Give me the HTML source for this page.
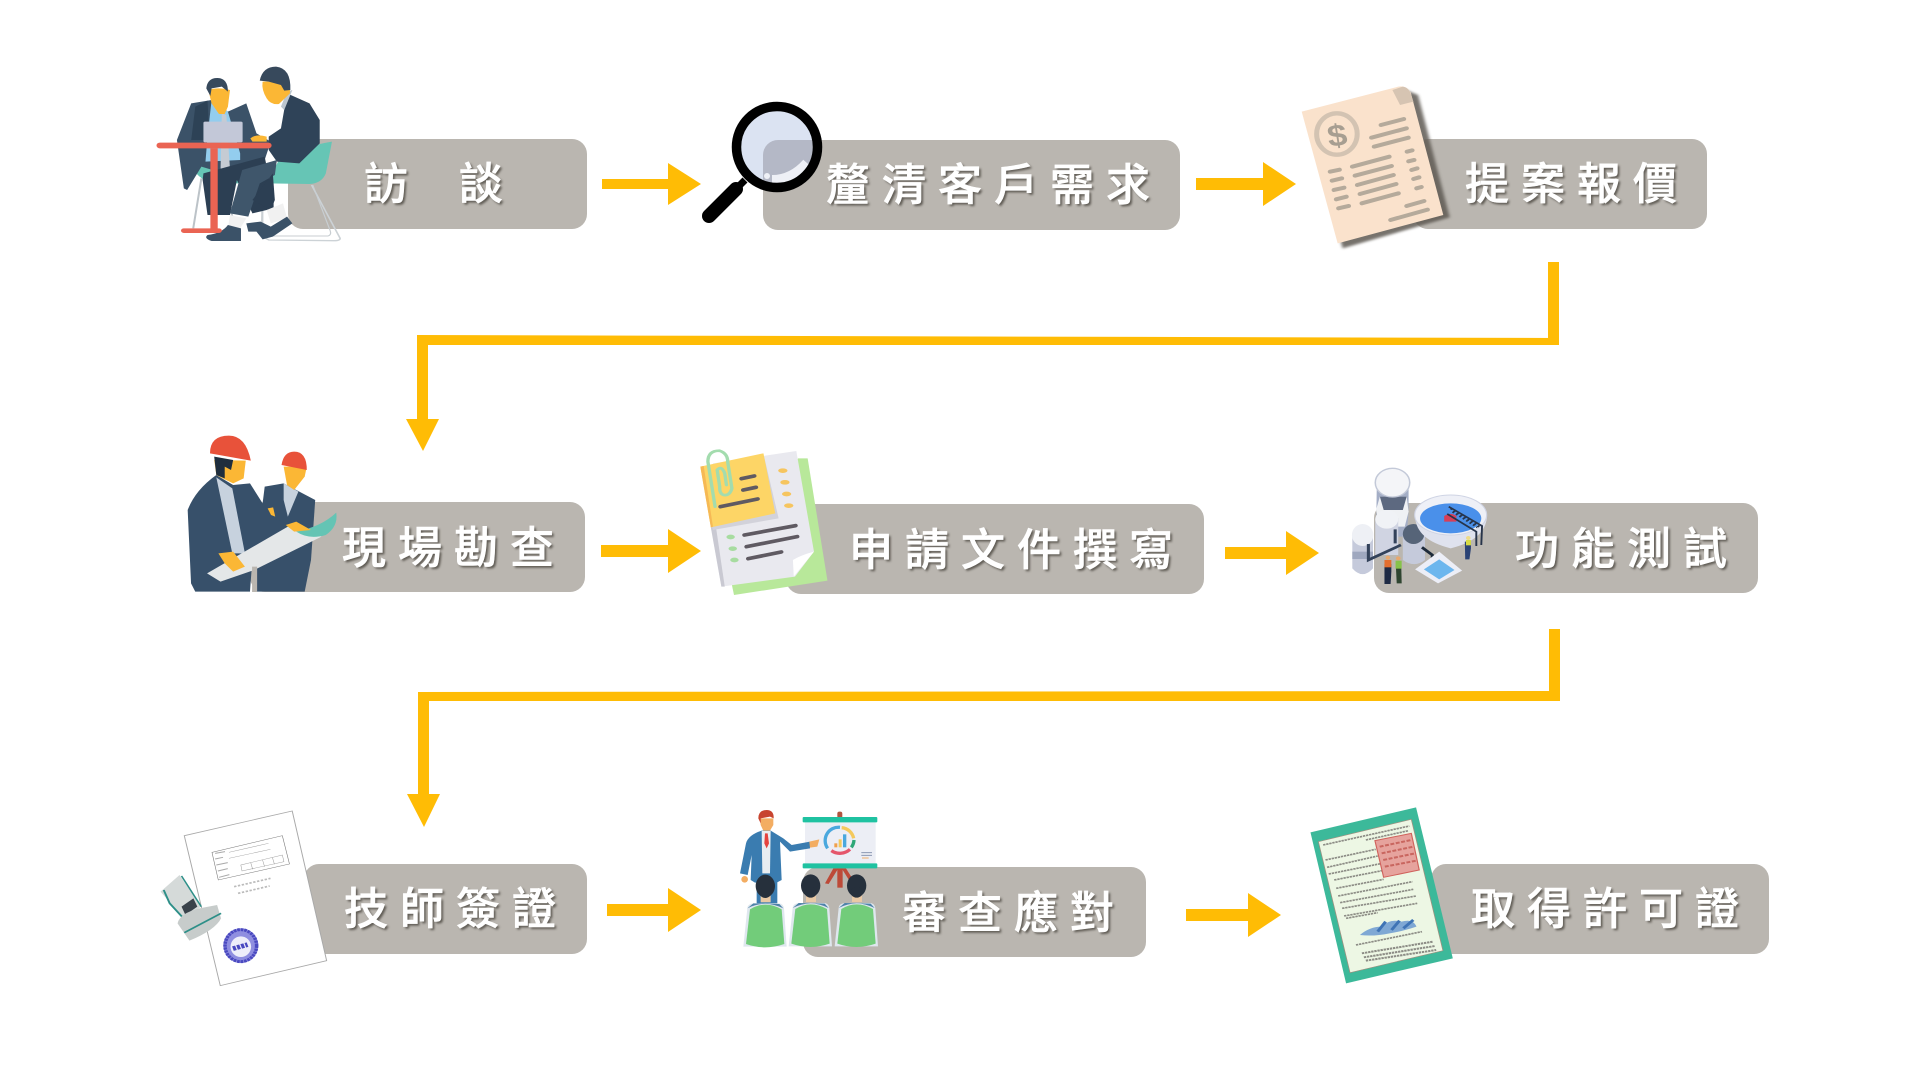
<!DOCTYPE html>
<html lang="zh-Hant"><head><meta charset="utf-8"><title>流程圖</title>
<style>
html,body{margin:0;padding:0;background:#fff;width:1920px;height:1075px;overflow:hidden}
svg{position:absolute;left:0;top:0}
.t{position:absolute;font-family:"Liberation Sans","Noto Sans CJK TC",sans-serif;font-size:44px;line-height:44px;font-weight:500;color:#fff;white-space:pre;letter-spacing:12px;-webkit-text-stroke:.6px #fff;text-shadow:2px 2px 2px #5f5b54}
</style></head><body>
<svg width="1920" height="1075" viewBox="0 0 1920 1075">
<defs><filter id="b" x="-20%" y="-20%" width="140%" height="140%"><feGaussianBlur stdDeviation="4"/></filter>
<clipPath id="lens"><circle cx="777" cy="147" r="38"/></clipPath></defs>
<!-- boxes -->
<g fill="#bab6b0">
<rect x="288" y="139" width="299" height="90" rx="15"/>
<rect x="763" y="140" width="417" height="90" rx="15"/>
<rect x="1413" y="139" width="294" height="90" rx="15"/>
<rect x="250" y="502" width="335" height="90" rx="15"/>
<rect x="786" y="504" width="418" height="90" rx="15"/>
<rect x="1374" y="503" width="384" height="90" rx="15"/>
<rect x="304" y="864" width="283" height="90" rx="15"/>
<rect x="803" y="867" width="343" height="90" rx="15"/>
<rect x="1431" y="864" width="338" height="90" rx="15"/>
</g>
<!-- arrows -->
<g fill="#ffbc05">
<path d="M602 179h66v-16l33 21-33 21v-16h-66z"/>
<path d="M1196 178h67v-16l33 22-33 22v-16h-67z"/>
<path d="M601 545h67v-16l33 22-33 22v-16h-67z"/>
<path d="M1225 547h61v-16l33 22-33 22v-16h-61z"/>
<path d="M607 904h61v-16l33 22-33 22v-16h-61z"/>
<path d="M1186 909h62v-16l33 22-33 22v-16h-62z"/>
<path d="M1548 262h11v81h-11z"/>
<path d="M417 335L1559 338v7L428 345v74h-11z"/>
<path d="M406 419h33l-16 32z"/>
<path d="M1549 629h11v72h-11z"/>
<path d="M418 692L1560 691v10L429 701v94h-11z"/>
<path d="M407 794h33l-16 33z"/>
</g>

<!-- icon 1: two men at table -->
<g transform="translate(130 40) scale(.408 .3333)">
<path d="M335 430L365 360Q420 320 495 305L480 400Q470 430 440 432Z" fill="#66c5b5"/>
<path d="M445 435L515 595Q515 602 500 602L340 600L325 590V430" fill="none" stroke="#ccd2d6" stroke-width="4"/>
<path d="M325 430L322 580Q325 590 345 588H485Q495 585 490 570L448 435" fill="none" stroke="#c8ced2" stroke-width="3"/>
<path d="M175 415L155 565M235 420L255 560" stroke="#bcc3c8" stroke-width="5" fill="none"/>
<path d="M140 330Q150 420 210 430H280V400L310 330Z" fill="#66c5b5"/>
<path d="M115 300L150 190L200 180L240 215L285 190L310 280L345 305L330 360L270 410L230 400L175 380L140 450L132 445Z" fill="#3b5268"/>
<path d="M160 200L190 182L195 300H150Z" fill="#2d4256"/>
<path d="M200 180L240 215L270 340V360L185 365L190 290Z" fill="#93cdee"/>
<path d="M225 220L236 225L245 385L235 400L222 385Z" fill="#c5cbd3"/>
<path d="M180 400L330 350L352 480L352 505L300 520L262 420L245 525H190L178 420Z" fill="#2c3f53"/>
<path d="M192 150Q215 140 245 150L240 200L232 222L218 222L200 190Z" fill="#fbb735"/>
<path d="M187 145Q190 113 215 114Q240 115 240 155L225 140L200 145L197 168Z" fill="#37495c"/>
<rect x="180" y="245" width="96" height="62" rx="4" fill="#c3c8d8"/>
<path d="M340 290L370 265L385 160L440 190L465 240L465 310L415 370L360 365L340 330Z" fill="#2f4358"/>
<path d="M385 155L398 150L378 210L370 200Z" fill="#bcc6cf"/>
<path d="M325 125Q322 150 335 175Q345 195 365 192L392 160V125Z" fill="#fbb735"/>
<path d="M318 122Q325 80 358 80Q395 85 393 150L378 152L370 135L340 125Z" fill="#37495c"/>
<path d="M295 295Q310 280 335 290V305H300Z" fill="#fbb735"/>
<path d="M360 360L275 390L245 520L290 530L318 430L355 405Z" fill="#3f566b"/>
<path d="M350 400L300 480L345 510L355 480Z" fill="#2c3f53"/>
<path d="M245 525L285 535L270 565H240Z" fill="#f1f1f1"/>
<path d="M335 510L375 490L385 535L345 550Z" fill="#f1f1f1"/>
<path d="M240 555L272 565V603H200Q180 595 190 585Q225 580 240 555Z" fill="#3b5268"/>
<path d="M285 550L320 545L345 560L385 530L398 550L350 590L325 598L310 575H290Z" fill="#3b5268"/>
<rect x="65" y="308" width="282" height="17" rx="8" fill="#ea6453"/>
<rect x="197" y="325" width="18" height="250" fill="#ea6453"/>
<rect x="125" y="565" width="100" height="14" rx="7" fill="#ea6453"/>
</g>

<!-- icon 2: magnifier -->
<g>
<circle cx="777" cy="147" r="41" fill="#dbe3f2"/>
<g clip-path="url(#lens)">
<rect x="763" y="140" width="90" height="90" rx="15" fill="#b4b8c6"/>
<path d="M772 180Q792 180 807 163" fill="none" stroke="#eef0f6" stroke-width="10"/>
<circle cx="767" cy="176" r="3" fill="#eef0f6"/>
</g>
<circle cx="777" cy="147" r="40.500" fill="none" stroke="#000" stroke-width="9.500"/>
<path d="M745 180L735 190" stroke="#000" stroke-width="7"/>
<path d="M736 189L709 216" stroke="#000" stroke-width="14" stroke-linecap="round"/>
</g>

<!-- icon 3: invoice -->
<g transform="translate(1180 60) scale(.3827 .3333)">
<path d="M330 165L590 90L622 105L705 472L425 565Z" fill="#5f5a52" filter="url(#b)" opacity=".85"/>
<path d="M318 155L570 80Q592 75 603 98L688 465L412 550Z" fill="#fae2cc"/>
<path d="M555 90L582 80Q600 82 606 112L610 125L575 135Z" fill="#d6c4b2"/>
<ellipse cx="410" cy="222" rx="53" ry="62" fill="none" stroke="#d3c3b2" stroke-width="13"/>
<text x="410" y="258" text-anchor="middle" font-family="Liberation Sans" font-weight="bold" font-size="92" fill="#a79e91" transform="rotate(-8 410 222)">$</text>
<g fill="none" stroke="#b5aa9b" stroke-width="12" stroke-linecap="round">
<path d="M525 195L585 177M500 233L592 205M507 260L597 233"/>
<path d="M450 320L547 290M457 347L553 318M463 375L558 345M470 402L565 372M475 430L571 400"/>
<path d="M392 335L417 329M397 362L423 355M402 390L429 383M408 418L435 410M414 445L441 438"/>
<path d="M593 275L607 271M597 304L612 300M605 330L620 325M610 357L625 352M618 385L631 381"/>
<path d="M592 438L638 423M550 480L647 449"/>
</g>
</g>

<!-- icon 4: workers -->
<g transform="translate(170 420) scale(.4209 .3333)">
<path d="M225 200L270 190L345 240L335 420L320 515H205V440L215 300Z" fill="#37506a"/>
<path d="M270 190L305 215L280 290L270 240Z" fill="#c7d2de"/>
<path d="M270 140H325L320 170L295 210L278 195Z" fill="#fbb735"/>
<path d="M265 135Q270 95 295 95Q325 95 325 150Z" fill="#e8523a"/>
<path d="M60 515L50 490L42 270Q60 210 110 165L150 195L190 190L240 290L285 315L260 340L195 430L190 515Z" fill="#37506a"/>
<path d="M110 172L148 205L178 400L148 400Z" fill="#c7d2de"/>
<path d="M105 120L180 122L175 175L150 190L125 175L110 165Z" fill="#fbb735"/>
<path d="M105 110L150 120L145 150L130 140V175L110 165Z" fill="#1f2e3d"/>
<path d="M95 100Q95 47 140 47Q180 47 192 122Q140 110 95 100Z" fill="#e8523a"/>
<path d="M88 460L280 320L335 340L360 350L200 450L120 485Z" fill="#e4e7e8"/>
<path d="M300 335Q360 320 395 278Q400 320 370 345Q330 360 300 335Z" fill="#64c4b4"/>
<path d="M115 400L150 395L178 440L150 455L130 430Z" fill="#fbb735"/>
<path d="M275 315L300 305L335 330L295 335Z" fill="#fbb735"/>
<path d="M232 265L245 262L250 290L240 285Z" fill="#fbb735"/>
<rect x="195" y="440" width="12" height="76" fill="#bab6b0"/>
</g>

<!-- icon 5: documents -->
<g transform="translate(170 420) scale(.4209 .3333)">
<path d="M1492 115L1515 115L1562 482L1340 525L1335 495Z" fill="#b8e89a"/>
<path d="M1290 130L1488 93L1530 395L1485 470L1310 500L1285 322Z" fill="#e9e9ef"/>
<path d="M1285 322L1297 320L1318 500L1310 500Z" fill="#c9c9d2"/>
<path d="M1482 470L1530 395Q1500 405 1480 420Z" fill="#fff"/>
<path d="M1265 150L1412 112L1446 295L1290 330Z" fill="#d2d2da"/>
<path d="M1260 140L1410 100L1438 280L1285 322Z" fill="#fdd566"/>
<path d="M1260 140L1268 138L1290 320L1285 322Z" fill="#f6b955"/>
<path d="M1295 260L1278 125Q1278 92 1305 92Q1325 100 1325 125L1335 205Q1330 228 1315 225Q1305 220 1306 200L1300 150Q1310 135 1318 160L1322 195" fill="none" stroke="#a3dcae" stroke-width="8" stroke-linejoin="round" stroke-linecap="round"/>
<g fill="none" stroke="#5f5a62" stroke-width="11" stroke-linecap="round">
<path d="M1358 176L1388 168M1362 210L1392 202M1308 260L1396 237"/>
<path d="M1365 345L1486 317M1370 380L1490 350M1374 416L1452 396"/>
</g>
<g fill="#f6c55f"><ellipse cx="1456" cy="152" rx="11" ry="7"/><ellipse cx="1461" cy="187" rx="11" ry="7"/><ellipse cx="1465" cy="222" rx="11" ry="7"/><ellipse cx="1470" cy="257" rx="11" ry="7"/></g>
<g fill="#a7dca0"><ellipse cx="1332" cy="351" rx="10" ry="7"/><ellipse cx="1337" cy="386" rx="10" ry="7"/><ellipse cx="1341" cy="420" rx="10" ry="7"/></g>
</g>

<!-- icon 6: water plant -->
<g transform="translate(1200 440) scale(.3827 .3333)">
<path d="M462 130Q502 180 545 130V215L540 290L460 290Z" fill="#a4aec6"/>
<path d="M470 170L540 170L545 215L535 260H470L460 210Z" fill="#eff1f4"/>
<path d="M470 170H540L530 210H480Z" fill="#5d6980"/>
<ellipse cx="503" cy="128" rx="45" ry="43" fill="#f4f5f8" stroke="#c3c9d8" stroke-width="4"/>
<path d="M458 235Q490 200 518 235V345H458Z" fill="#d0d4e2"/>
<ellipse cx="488" cy="238" rx="30" ry="28" fill="#f0f2f6"/>
<path d="M398 285H452V385Q425 420 398 385Z" fill="#c5cadb"/>
<rect x="398" y="335" width="54" height="22" fill="#9fa8bf"/>
<ellipse cx="425" cy="285" rx="28" ry="33" fill="#eef0f5"/>
<path d="M530 285H588V360Q560 385 530 360Z" fill="#c5cadb"/>
<ellipse cx="558" cy="282" rx="28" ry="30" fill="#566478"/>
<path d="M440 312V360L525 315M510 268V310" fill="none" stroke="#33425a" stroke-width="8"/>
<path d="M580 322L607 345V405" fill="none" stroke="#1d2a3a" stroke-width="8"/>
<path d="M562 388L625 335L685 392L622 430Z" fill="#eceef7"/>
<path d="M585 388L625 358L665 390L625 418Z" fill="#6cb6ee"/>
<path d="M562 230Q565 300 655 325Q745 300 750 230V225H562Z" fill="#dfe2ee"/>
<ellipse cx="655" cy="225" rx="94" ry="60" fill="#eef0f7" stroke="#cfd4e4" stroke-width="3"/>
<ellipse cx="655" cy="235" rx="80" ry="45" fill="#4a90ea"/>
<path d="M638 228Q655 215 670 228V245H638Z" fill="#d73e58"/>
<path d="M650 200L737 258L735 315M646 222L722 275L722 318" fill="none" stroke="#27344a" stroke-width="5"/>
<path d="M655 205L730 260M660 215L725 262" fill="none" stroke="#27344a" stroke-width="6" stroke-dasharray="5 6"/>
<path d="M692 305H708V325L704 358H693Z" fill="#2b4375"/>
<rect x="695" y="300" width="13" height="16" fill="#d8dc44"/>
<circle cx="701" cy="294" r="6" fill="#eedc88"/>
<path d="M482 372H500V395L498 432H482Z" fill="#1e2a44"/>
<rect x="482" y="360" width="18" height="22" fill="#e36e2e"/>
<circle cx="491" cy="353" r="6" fill="#e8a86e"/>
<path d="M512 382H526L527 430H514Z" fill="#2f4530"/>
<rect x="511" y="362" width="16" height="24" fill="#87c24a"/>
<circle cx="518" cy="355" r="6" fill="#e8a86e"/>
</g>

<!-- icon 7: signed doc + stamp -->
<g transform="translate(140 790) scale(.3954 .3333)">
<path d="M112 137L385 63L472 512L203 587Z" fill="#fff" stroke="#a9a9a9" stroke-width="2.500"/>
<path d="M182 187L360 137L378 222L198 270Z" fill="none" stroke="#777" stroke-width="1.500"/>
<path d="M225 187L325 160M225 205L330 178M255 225L360 195L364 215L258 243ZM280 218L285 238M310 210L315 230M335 203L340 223" fill="none" stroke="#999" stroke-width="1.300"/>
<path d="M190 190L215 185M190 207L210 202M193 225L222 218M197 243L222 236M200 262L226 254" stroke="#aaa" stroke-width="3" fill="none"/>
<path d="M238 290L330 265M248 310L328 288" stroke="#bbb" stroke-width="5" stroke-dasharray="6 4" fill="none"/>
<ellipse cx="255" cy="467" rx="44" ry="52" fill="#8f8ee0"/>
<ellipse cx="255" cy="467" rx="40" ry="48" fill="none" stroke="#4a49c0" stroke-width="9" stroke-dasharray="7 2"/>
<ellipse cx="255" cy="470" rx="26" ry="31" fill="#eeeefa"/>
<path d="M235 476L272 464" stroke="#4a49c0" stroke-width="14" stroke-dasharray="8 3"/>
<path d="M52 305L100 255L155 350L110 385Z" fill="#d5dad9"/>
<path d="M60 300L75 340L110 385" fill="none" stroke="#2d8f88" stroke-width="5"/>
<path d="M105 258L155 350" fill="none" stroke="#2d8f88" stroke-width="4"/>
<path d="M105 350L135 325L145 350L115 375Z" fill="#39424a"/>
<path d="M95 400Q100 370 150 355L195 345L205 385Q190 420 125 452Z" fill="#c7cccb"/>
<path d="M112 428L205 370" stroke="#2d8f88" stroke-width="5" fill="none"/>
</g>

<!-- icon 8: presentation -->
<g transform="translate(730 800) scale(.3333)">
<rect x="322" y="35" width="15" height="20" rx="6" fill="#b2543f"/>
<path d="M310 205L285 250L296 252L325 205ZM348 205L370 240L360 245L335 205Z" fill="#bd4a38"/>
<rect x="322" y="205" width="16" height="58" fill="#bd4a38"/>
<rect x="225" y="60" width="212" height="135" fill="#eceef5"/>
<rect x="218" y="51" width="224" height="16" rx="3" fill="#1fc2a1"/>
<rect x="218" y="190" width="224" height="15" rx="3" fill="#1fc2a1"/>
<path d="M293 145A40 40 0 0 1 330 82" fill="none" stroke="#4aa8de" stroke-width="10"/>
<path d="M335 83A40 40 0 0 1 371 115" fill="none" stroke="#f4c95c" stroke-width="10"/>
<path d="M372 120A40 40 0 0 1 364 142" fill="none" stroke="#2ea878" stroke-width="10"/>
<path d="M360 148A45 45 0 0 1 304 152" fill="none" stroke="#e5566b" stroke-width="10"/>
<rect x="313" y="130" width="9" height="12" fill="#f0a04b"/><rect x="326" y="118" width="9" height="24" fill="#f4c95c"/><rect x="339" y="103" width="10" height="39" fill="#4aa8de"/>
<path d="M394 158H426M394 166H426" stroke="#7d8aa8" stroke-width="2.500"/>
<path d="M396 174H416" stroke="#f0a04b" stroke-width="2.500"/>
<path d="M80 230V310H142V230Z" fill="#3a7cb0"/>
<path d="M30 220L48 130Q55 105 95 92L122 92L160 115L185 135L240 125L240 145L180 155L150 125L155 240L140 248H75L62 240L65 165L53 225Z" fill="#3a7cb0"/>
<path d="M95 93H122L120 220H97Z" fill="#e8edf1"/>
<path d="M105 100H113L117 130L110 145L103 130Z" fill="#e5433e"/>
<circle cx="44" cy="238" r="10" fill="#f3ad62"/>
<path d="M238 125L268 118L262 140L240 143Z" fill="#f3ad62"/>
<path d="M90 55H130V75L120 92H100L92 75Z" fill="#f3ad62"/>
<path d="M85 55Q85 30 110 30Q132 30 131 55L120 50L92 55L92 70Z" fill="#c8442f"/>
<g id="aud">
<path d="M52 325Q52 312 70 310L148 310Q160 312 162 325L170 440H40Z" fill="#dfe7ee"/>
<path d="M60 328Q105 300 155 328L163 432Q105 452 48 432Z" fill="#72cc7a"/>
<path d="M52 325Q105 298 160 325L148 312L70 310Z" fill="#4e82a8"/>
<rect x="92" y="285" width="30" height="22" fill="#e9c9a5"/>
<ellipse cx="106" cy="258" rx="29" ry="34" fill="#26303c"/>
<ellipse cx="106" cy="278" rx="18" ry="16" fill="#26303c"/>
</g>
<use href="#aud" x="136" y="-1"/>
<use href="#aud" x="274" y="-1"/>
</g>

<!-- icon 9: license -->
<g transform="translate(1180 790) scale(.3954 .3333)">
<path d="M330 127L597 52L690 505L420 580Z" fill="#3cb99a"/>
<path d="M350 155L585 88L665 482L430 548Z" fill="#edf7e4" stroke="#9c9180" stroke-width="2"/>
<g fill="none" stroke="#8c8c85" stroke-width="5" stroke-dasharray="6 2">
<path d="M362 165L580 108M470 150L578 122M368 210L495 178M372 232L500 198M376 252L512 220M390 270L520 240M395 295L515 268M400 318L588 275M405 338L590 298M410 355L597 318M415 378L600 340M420 385L500 368M445 465L612 425"/>
<path d="M460 490L640 455M465 502L645 468M470 512L648 480" stroke-width="6"/>
</g>
<path d="M493 152L585 130L605 240L515 262Z" fill="#e6a39d" stroke="#d0625c" stroke-width="3"/>
<path d="M505 170L585 150M510 190L590 170M514 210L595 190M518 230L598 212" fill="none" stroke="#c9665f" stroke-width="6" stroke-dasharray="10 4"/>
<path d="M455 435Q480 410 510 410Q530 385 560 395Q590 385 598 410Q560 425 530 430Q490 440 455 435Z" fill="#7fa8d4"/>
<path d="M500 425L520 395M535 420L555 392M565 415L590 390" stroke="#3f74b5" stroke-width="8" fill="none"/>
</g>
</svg>

<div class="t" style="left:364px;top:163px">訪</div>
<div class="t" style="left:459px;top:163px">談</div>
<div class="t" style="left:826px;top:164px">釐清客戶需求</div>
<div class="t" style="left:1465px;top:163px">提案報價</div>
<div class="t" style="left:342px;top:527px">現場勘查</div>
<div class="t" style="left:849px;top:529px">申請文件撰寫</div>
<div class="t" style="left:1515px;top:528px">功能測試</div>
<div class="t" style="left:344px;top:888px">技師簽證</div>
<div class="t" style="left:902px;top:892px">審查應對</div>
<div class="t" style="left:1471px;top:888px">取得許可證</div>
</body></html>
